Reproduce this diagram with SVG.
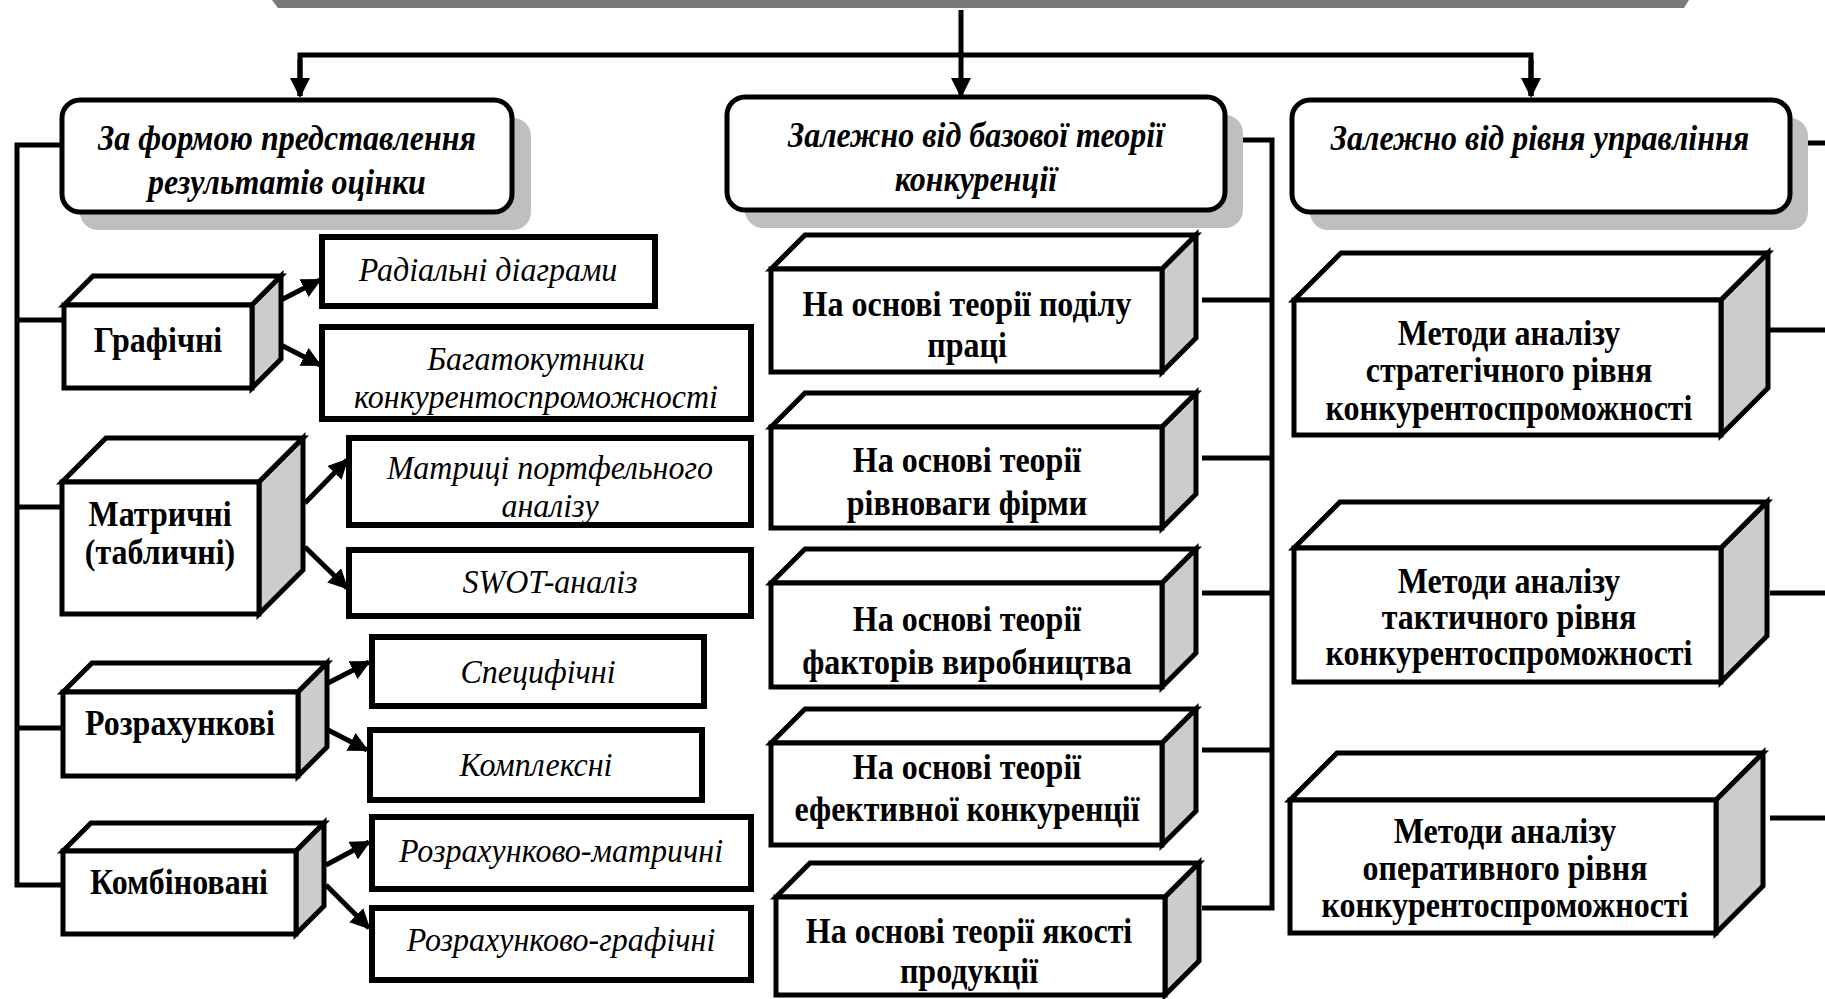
<svg xmlns="http://www.w3.org/2000/svg" width="1825" height="999" viewBox="0 0 1825 999">
  <defs>
    <marker id="arr" viewBox="0 0 10 10" refX="9" refY="5" markerWidth="4" markerHeight="4" markerUnits="strokeWidth" orient="auto">
      <path d="M0,0 L10,5 L0,10 z" fill="#000"/>
    </marker>
    <style>
      .ln { fill: none; stroke: #000; stroke-width: 5; }
      .hdr { fill: #fff; stroke: #000; stroke-width: 5; }
      .shd { fill: #bfbfbf; }
      .leaf { fill: #fff; stroke: #000; stroke-width: 6; }
      .face { fill: #fff; stroke: #000; stroke-width: 5; stroke-linejoin: miter; }
      .side { fill: #cccccc; stroke: #000; stroke-width: 5; stroke-linejoin: miter; }
      text { font-family: "Liberation Serif", "Times New Roman", serif; fill: #000; text-anchor: middle; }
      .th { font-size: 32px; font-weight: bold; font-style: italic; }
      .tb { font-size: 32px; font-weight: bold; }
      .ti { font-size: 32px; font-style: italic; }
    </style>
  </defs>
  <rect width="1825" height="999" fill="#fff"/>

  <!-- shadow strip of the title block above -->
  <polygon points="272,0 1689,0 1684,8 278,8" fill="#7a7a7a"/>

  <!-- connectors -->
  <g id="connectors">
    <line class="ln" x1="961" y1="10" x2="961" y2="96" marker-end="url(#arr)"/>
    <polyline class="ln" points="300,96 300,55 1531,55 1531,96" />
    <line class="ln" x1="300" y1="60" x2="300" y2="96" marker-end="url(#arr)"/>
    <line class="ln" x1="1531" y1="60" x2="1531" y2="96" marker-end="url(#arr)"/>

    <!-- left spine -->
    <polyline class="ln" points="62,145 17,145 17,885 63,885"/>
    <line class="ln" x1="17" y1="320" x2="64" y2="320"/>
    <line class="ln" x1="17" y1="507" x2="62" y2="507"/>
    <line class="ln" x1="17" y1="728" x2="63" y2="728"/>

    <!-- left arrows -->
    <line class="ln" x1="281" y1="300" x2="320" y2="280" marker-end="url(#arr)"/>
    <line class="ln" x1="281" y1="345" x2="320" y2="365" marker-end="url(#arr)"/>
    <line class="ln" x1="305" y1="503" x2="347" y2="460" marker-end="url(#arr)"/>
    <line class="ln" x1="305" y1="547" x2="347" y2="588" marker-end="url(#arr)"/>
    <line class="ln" x1="328" y1="683" x2="369" y2="662" marker-end="url(#arr)"/>
    <line class="ln" x1="328" y1="730" x2="367" y2="750" marker-end="url(#arr)"/>
    <line class="ln" x1="326" y1="865" x2="369" y2="842" marker-end="url(#arr)"/>
    <line class="ln" x1="326" y1="885" x2="369" y2="928" marker-end="url(#arr)"/>

    <!-- middle spine -->
    <polyline class="ln" points="1225,140 1272,140 1272,908 1202,908"/>
    <line class="ln" x1="1202" y1="300" x2="1272" y2="300"/>
    <line class="ln" x1="1202" y1="458" x2="1272" y2="458"/>
    <line class="ln" x1="1202" y1="593" x2="1272" y2="593"/>
    <line class="ln" x1="1202" y1="750" x2="1272" y2="750"/>

    <!-- right branches -->
    <line class="ln" x1="1790" y1="143" x2="1825" y2="143"/>
    <line class="ln" x1="1770" y1="330" x2="1825" y2="330"/>
    <line class="ln" x1="1770" y1="593" x2="1825" y2="593"/>
    <line class="ln" x1="1770" y1="818" x2="1825" y2="818"/>
  </g>

  <!-- header blocks -->
  <g id="hdr-form">
    <rect class="shd" x="80" y="118" width="451" height="112" rx="18"/>
    <rect class="hdr" x="62" y="100" width="450" height="112" rx="18"/>
    <text class="th" transform="translate(287 150) scale(1 1.12)">За формою представлення</text>
    <text class="th" transform="translate(287 194) scale(1 1.12)">результатів оцінки</text>
  </g>
  <g id="hdr-theory">
    <rect class="shd" x="745" y="115" width="498" height="113" rx="18"/>
    <rect class="hdr" x="727" y="97" width="498" height="113" rx="18"/>
    <text class="th" transform="translate(976 147) scale(1 1.12)">Залежно від базової теорії</text>
    <text class="th" transform="translate(976 191) scale(1 1.12)">конкуренції</text>
  </g>
  <g id="hdr-level">
    <rect class="shd" x="1310" y="118" width="498" height="112" rx="18"/>
    <rect class="hdr" x="1292" y="100" width="498" height="112" rx="18"/>
    <text class="th" transform="translate(1540 150) scale(1 1.12)">Залежно від рівня управління</text>
  </g>

  <!-- left cubes -->
  <g id="cube-graphic">
    <polygon class="face" points="64,305 93,276 281,276 252,305"/>
    <polygon class="side" points="252,305 281,276 281,359 252,388"/>
    <rect class="face" x="64" y="305" width="188" height="83"/>
    <text class="tb" transform="translate(158 352) scale(1 1.12)">Графічні</text>
  </g>
  <g id="cube-matrix">
    <polygon class="face" points="62,482 106,438 303,438 259,482"/>
    <polygon class="side" points="259,482 303,438 303,570 259,614"/>
    <rect class="face" x="62" y="482" width="197" height="132"/>
    <text class="tb" transform="translate(160 526) scale(1 1.12)">Матричні</text>
    <text class="tb" transform="translate(160 564) scale(1 1.12)">(табличні)</text>
  </g>
  <g id="cube-calc">
    <polygon class="face" points="63,692 92,663 327,663 298,692"/>
    <polygon class="side" points="298,692 327,663 327,747 298,776"/>
    <rect class="face" x="63" y="692" width="235" height="84"/>
    <text class="tb" transform="translate(180 735) scale(1 1.12)">Розрахункові</text>
  </g>
  <g id="cube-comb">
    <polygon class="face" points="63,851 91,823 324,823 296,851"/>
    <polygon class="side" points="296,851 324,823 324,906 296,934"/>
    <rect class="face" x="63" y="851" width="233" height="83"/>
    <text class="tb" transform="translate(179 894) scale(1 1.12)">Комбіновані</text>
  </g>

  <!-- left leaf boxes -->
  <g id="leaf-radial">
    <rect class="leaf" x="322" y="237" width="333" height="69"/>
    <text class="ti" transform="translate(488 281) scale(1 1.06)">Радіальні діаграми</text>
  </g>
  <g id="leaf-polygon">
    <rect class="leaf" x="322" y="327" width="429" height="92"/>
    <text class="ti" transform="translate(536 370) scale(1 1.06)">Багатокутники</text>
    <text class="ti" transform="translate(536 408) scale(1 1.06)">конкурентоспроможності</text>
  </g>
  <g id="leaf-portfolio">
    <rect class="leaf" x="349" y="438" width="402" height="87"/>
    <text class="ti" transform="translate(550 479) scale(1 1.06)">Матриці портфельного</text>
    <text class="ti" transform="translate(550 517) scale(1 1.06)">аналізу</text>
  </g>
  <g id="leaf-swot">
    <rect class="leaf" x="349" y="550" width="402" height="66"/>
    <text class="ti" transform="translate(550 593) scale(1 1.06)">SWOT-аналіз</text>
  </g>
  <g id="leaf-specific">
    <rect class="leaf" x="372" y="637" width="332" height="69"/>
    <text class="ti" transform="translate(538 683) scale(1 1.06)">Специфічні</text>
  </g>
  <g id="leaf-complex">
    <rect class="leaf" x="370" y="730" width="332" height="70"/>
    <text class="ti" transform="translate(536 776) scale(1 1.06)">Комплексні</text>
  </g>
  <g id="leaf-calc-matrix">
    <rect class="leaf" x="372" y="817" width="379" height="72"/>
    <text class="ti" transform="translate(561 862) scale(1 1.06)">Розрахунково-матричні</text>
  </g>
  <g id="leaf-calc-graph">
    <rect class="leaf" x="372" y="908" width="379" height="72"/>
    <text class="ti" transform="translate(561 951) scale(1 1.06)">Розрахунково-графічні</text>
  </g>

  <!-- middle cubes -->
  <g id="cube-labour">
    <polygon class="face" points="771,269 805,235 1196,235 1162,269"/>
    <polygon class="side" points="1162,269 1196,235 1196,338 1162,372"/>
    <rect class="face" x="771" y="269" width="391" height="103"/>
    <text class="tb" transform="translate(967 316) scale(1 1.12)">На основі теорії поділу</text>
    <text class="tb" transform="translate(967 357) scale(1 1.12)">праці</text>
  </g>
  <g id="cube-equilibrium">
    <polygon class="face" points="771,427 805,393 1196,393 1162,427"/>
    <polygon class="side" points="1162,427 1196,393 1196,494 1162,528"/>
    <rect class="face" x="771" y="427" width="391" height="101"/>
    <text class="tb" transform="translate(967 472) scale(1 1.12)">На основі теорії</text>
    <text class="tb" transform="translate(967 515) scale(1 1.12)">рівноваги фірми</text>
  </g>
  <g id="cube-factors">
    <polygon class="face" points="771,583 805,549 1196,549 1162,583"/>
    <polygon class="side" points="1162,583 1196,549 1196,653 1162,687"/>
    <rect class="face" x="771" y="583" width="391" height="104"/>
    <text class="tb" transform="translate(967 631) scale(1 1.12)">На основі теорії</text>
    <text class="tb" transform="translate(967 674) scale(1 1.12)">факторів виробництва</text>
  </g>
  <g id="cube-effective">
    <polygon class="face" points="771,743 805,709 1196,709 1162,743"/>
    <polygon class="side" points="1162,743 1196,709 1196,811 1162,845"/>
    <rect class="face" x="771" y="743" width="391" height="102"/>
    <text class="tb" transform="translate(967 779) scale(1 1.12)">На основі теорії</text>
    <text class="tb" transform="translate(967 821) scale(1 1.12)">ефективної конкуренції</text>
  </g>
  <g id="cube-quality">
    <polygon class="face" points="776,897 810,863 1199,863 1165,897"/>
    <polygon class="side" points="1165,897 1199,863 1199,961 1165,995"/>
    <rect class="face" x="776" y="897" width="389" height="98"/>
    <text class="tb" transform="translate(969 943) scale(1 1.12)">На основі теорії якості</text>
    <text class="tb" transform="translate(969 983) scale(1 1.12)">продукції</text>
  </g>

  <!-- right cubes -->
  <g id="cube-strategic">
    <polygon class="face" points="1294,300 1341,253 1768,253 1721,300"/>
    <polygon class="side" points="1721,300 1768,253 1768,388 1721,435"/>
    <rect class="face" x="1294" y="300" width="427" height="135"/>
    <text class="tb" transform="translate(1509 345) scale(1 1.12)">Методи аналізу</text>
    <text class="tb" transform="translate(1509 382) scale(1 1.12)">стратегічного рівня</text>
    <text class="tb" transform="translate(1509 420) scale(1 1.12)">конкурентоспроможності</text>
  </g>
  <g id="cube-tactical">
    <polygon class="face" points="1294,548 1340,502 1767,502 1721,548"/>
    <polygon class="side" points="1721,548 1767,502 1767,636 1721,682"/>
    <rect class="face" x="1294" y="548" width="427" height="134"/>
    <text class="tb" transform="translate(1509 593) scale(1 1.12)">Методи аналізу</text>
    <text class="tb" transform="translate(1509 629) scale(1 1.12)">тактичного рівня</text>
    <text class="tb" transform="translate(1509 665) scale(1 1.12)">конкурентоспроможності</text>
  </g>
  <g id="cube-operative">
    <polygon class="face" points="1290,800 1337,753 1763,753 1716,800"/>
    <polygon class="side" points="1716,800 1763,753 1763,886 1716,933"/>
    <rect class="face" x="1290" y="800" width="426" height="133"/>
    <text class="tb" transform="translate(1505 843) scale(1 1.12)">Методи аналізу</text>
    <text class="tb" transform="translate(1505 880) scale(1 1.12)">оперативного рівня</text>
    <text class="tb" transform="translate(1505 917) scale(1 1.12)">конкурентоспроможності</text>
  </g>
</svg>
